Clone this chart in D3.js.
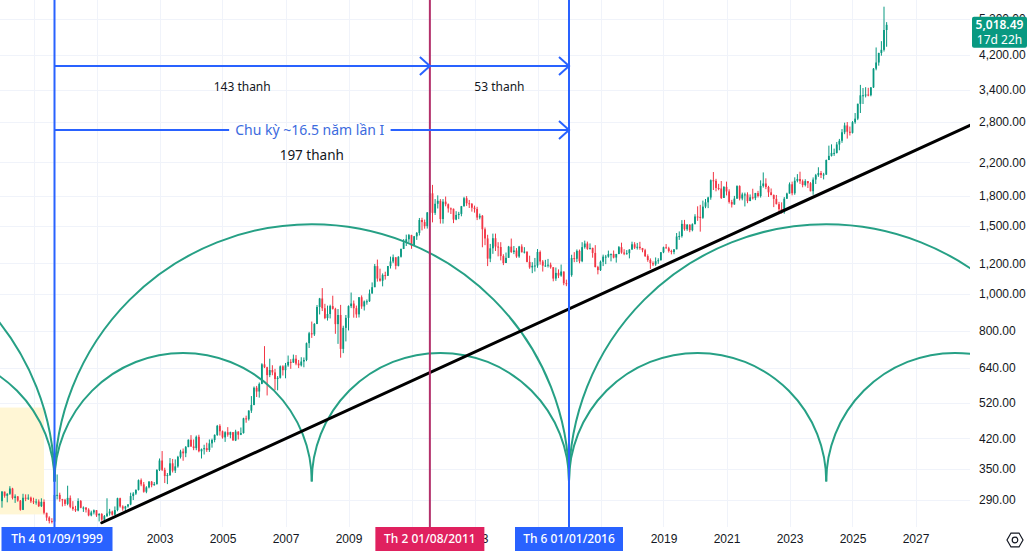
<!DOCTYPE html>
<html>
<head>
<meta charset="utf-8">
<style>
  body { margin: 0; background: #fff; }
  svg { display: block; font-family: "Noto Sans", "Open Sans", sans-serif; }
  .grid line { stroke: #f0f3fa; stroke-width: 1; }
  .axis text { fill: #131722; font-size: 12px; }
  .axis path, .axis line { display: none; }
</style>
</head>
<body>
<svg id="chart"></svg>
<script src="https://cdn.jsdelivr.net/npm/d3@7"></script>
<script>
// monthly XAUUSD bars, first bar = Jan 1998
var startYear = 1998;
var firstOpen = 288.0;
var closes = [
  304.9,297.4,301.0,310.7,293.6,296.3,288.9,273.4,293.9,292.3,294.1,287.8, // 1998
  287.1,287.3,279.5,286.6,268.6,261.0,255.6,254.8,299.0,299.1,291.4,290.3, // 1999
  283.3,293.7,278.4,274.8,272.3,288.2,276.8,277.0,273.7,264.5,269.1,272.7, // 2000
  264.5,266.7,257.7,263.2,267.5,270.6,265.5,273.0,293.1,279.0,275.5,279.0, // 2001
  282.3,296.9,301.4,308.2,326.6,318.5,304.7,312.8,323.7,316.9,319.1,347.2, // 2002
  367.5,347.5,334.9,336.8,361.4,346.0,354.8,375.6,388.0,383.8,398.4,416.3, // 2003
  399.8,396.0,423.7,388.5,393.3,395.8,391.4,407.3,415.7,428.5,452.5,438.0, // 2004
  422.2,435.5,428.9,435.7,414.5,437.1,429.0,433.3,473.3,470.8,495.7,513.0, // 2005
  568.8,556.0,582.0,654.5,643.0,613.5,632.5,623.5,599.3,603.8,646.7,632.0, // 2006
  650.5,664.2,661.8,677.0,657.5,650.5,665.5,672.0,743.0,788.5,783.5,834.0, // 2007
  923.3,971.5,916.2,864.0,885.0,928.3,913.0,833.0,880.0,718.0,814.5,865.0, // 2008
  928.0,942.5,916.5,883.3,978.8,926.4,954.5,955.5,1001,1039.7,1180,1095,   // 2009
  1081,1118,1113.3,1180.3,1213.4,1244,1181.7,1248,1307.8,1359.4,1386.1,1421, // 2010
  1333,1411,1439.5,1556,1536.5,1500,1628,1826,1624,1715,1746,1565,         // 2011
  1737,1710,1668,1664,1560,1604,1614,1690,1773,1720,1714,1675,             // 2012
  1663,1579,1596,1472,1393,1234,1313,1395,1327,1323,1253,1202,             // 2013
  1240,1326,1284,1296,1250,1327,1282,1287,1210,1171,1182,1184,             // 2014
  1284,1213,1183,1184,1190,1172,1095,1133,1115,1142,1065,1061,             // 2015
  1118,1238,1233,1293,1215,1322,1351,1309,1316,1277,1173,1152,             // 2016
  1211,1249,1249,1268,1268,1242,1269,1322,1280,1271,1275,1303,             // 2017
  1345,1318,1325,1315,1298,1253,1224,1201,1192,1215,1222,1282,             // 2018
  1321,1313,1292,1284,1305,1409,1413,1520,1472,1513,1464,1517,             // 2019
  1589,1585,1577,1686,1730,1781,1975,1968,1886,1879,1776,1898,             // 2020
  1847,1734,1708,1769,1907,1770,1814,1814,1743,1783,1774,1829,             // 2021
  1797,1909,1937,1897,1837,1807,1766,1711,1661,1634,1768,1824,             // 2022
  1928,1827,1969,1990,1963,1919,1965,1940,1849,1983,2036,2063,             // 2023
  2039,2044,2230,2286,2327,2327,2448,2503,2634,2744,2643,2625,             // 2024
  2798,2858,3124,3288,3289,3303,3290,3448,3858,4003,4239,4319,             // 2025
  4865,5018.49                                                             // 2026
];
var highs = [
  306,305,302,315,312,300,297,290,301,300,300,296,
  294,292,291,293,291,268,263,260,309,338,303,292,
  292,316,298,288,280,293,290,279,278,276,272,274,
  273,268,268,265,293,275,272,279,294,294,281,280,
  283,303,304,309,328,330,323,315,325,325,323,349,
  372,389,352,341,373,371,370,378,392,395,401,417,
  428,417,427,429,395,404,409,417,419,430,455,457,
  440,438,449,437,436,442,438,448,475,481,497,541,
  573,575,587,659,730,645,677,651,637,610,650,651,
  660,690,675,694,692,672,683,682,746,795,846,838,
  934,975,1034,941,931,936,988,919,912,935,825,880,
  932,1007,960,931,980,990,960,966,1025,1070,1195,1227,
  1162,1129,1141,1181,1249,1265,1245,1252,1311,1387,1425,1431,
  1424,1414,1448,1575,1577,1560,1632,1913,1921,1764,1804,1764,
  1764,1791,1718,1677,1667,1640,1634,1693,1788,1796,1755,1723,
  1696,1684,1617,1603,1488,1424,1348,1434,1434,1362,1362,1267,
  1280,1332,1392,1331,1315,1332,1345,1322,1288,1256,1208,1239,
  1307,1296,1224,1225,1232,1205,1172,1170,1157,1191,1143,1088,
  1127,1263,1283,1304,1303,1362,1375,1367,1352,1318,1338,1182,
  1220,1264,1262,1295,1273,1296,1270,1331,1358,1306,1299,1306,
  1366,1362,1356,1365,1316,1309,1266,1236,1214,1243,1237,1284,
  1326,1347,1325,1302,1306,1439,1453,1555,1557,1518,1516,1525,
  1611,1689,1704,1748,1765,1789,1984,2075,1992,1933,1966,1906,
  1959,1871,1756,1798,1916,1916,1834,1834,1837,1814,1877,1831,
  1853,1974,2070,1998,1910,1880,1814,1808,1735,1730,1786,1833,
  1949,1959,2010,2049,2079,1984,1987,1966,1953,2009,2052,2135,
  2088,2065,2236,2431,2450,2388,2484,2531,2685,2790,2801,2726,
  2817,2956,3128,3500,3435,3452,3439,3453,3872,4381,4245,4550,
  5595,5100
];
var lows = [
  277,294,286,299,291,285,287,272,273,288,290,285,
  283,282,278,278,266,256,252,252,253,291,287,279,
  280,281,276,272,270,271,276,270,269,263,263,266,
  262,255,256,254,262,264,264,265,271,277,272,270,
  277,281,290,299,307,315,303,302,311,313,316,318,
  345,345,321,319,335,342,341,352,372,367,375,398,
  399,391,391,386,372,381,387,387,397,410,426,427,
  419,411,424,420,414,413,417,428,432,461,467,489,
  512,538,536,581,640,543,606,613,561,560,601,612,
  602,645,637,660,651,640,646,643,667,722,767,776,
  833,883,901,858,851,862,909,786,740,681,700,751,
  802,917,866,865,867,913,904,936,952,1002,1041,1075,
  1075,1045,1088,1112,1163,1201,1157,1178,1242,1307,1331,1359,
  1309,1331,1381,1418,1462,1477,1478,1604,1534,1604,1667,1523,
  1523,1689,1627,1613,1527,1554,1564,1591,1686,1693,1672,1636,
  1626,1555,1562,1321,1338,1180,1208,1270,1292,1251,1221,1187,
  1202,1240,1277,1268,1240,1240,1281,1273,1207,1161,1131,1142,
  1168,1190,1142,1175,1170,1162,1077,1080,1098,1107,1052,1046,
  1061,1107,1208,1209,1200,1208,1310,1301,1303,1241,1171,1123,
  1146,1180,1194,1241,1214,1236,1205,1267,1271,1260,1264,1236,
  1302,1307,1303,1302,1282,1246,1211,1160,1180,1182,1196,1221,
  1275,1310,1280,1266,1267,1305,1381,1400,1459,1458,1446,1454,
  1517,1548,1451,1567,1670,1671,1757,1863,1848,1860,1765,1776,
  1803,1717,1677,1705,1766,1750,1751,1688,1721,1746,1759,1753,
  1781,1780,1890,1872,1787,1805,1681,1709,1615,1617,1616,1765,
  1823,1804,1810,1950,1932,1893,1903,1885,1848,1810,1931,2016,
  2002,1985,2039,2229,2277,2286,2319,2364,2472,2604,2536,2583,
  2614,2772,2833,2957,3121,3247,3268,3268,3436,3820,3928,4170,
  4275,4400
];

var priceTicks = [290, 350, 420, 520, 640, 800, 1000, 1200, 1500, 1800, 2200, 2800, 3400, 4200, 5200];
var yearTicks = [1999, 2001, 2003, 2005, 2007, 2009, 2011, 2013, 2015, 2017, 2019, 2021, 2023, 2025, 2027];

// drawings
var cycleStart = "1999-09", cycleMid = "2011-08", cycleEnd = "2016-01";
var markerLabels = ["Th 4 01/09/1999", "Th 2 01/08/2011", "Th 6 01/01/2016"];
var barCounts = ["143 thanh", "53 thanh", "197 thanh"];
var cycleTitle = "Chu kỳ ~16.5 năm lần I";
var trendA = ["2001-03", 253], trendB = ["2022-10", 1637];
var arcBasePrice = 324;
var zoneBox = [["1997-06", 505], ["1999-05", 266]];
var lastPrice = 5018.49, countdown = "17d 22h";

var W = 1034, H = 552, plotW = 970, plotH = 527;
var svg = d3.select("#chart").attr("width", W).attr("height", H);

function idx(s) { var p = s.split("-"); return (+p[0] - startYear) * 12 + (+p[1] - 1); }

var x = d3.scaleLinear().domain([60, 348]).range([159.5, 915.5]);
var y = d3.scaleLog().domain([290, 4200]).range([500, 54.5]);

var bars = closes.map(function(c, i) {
  return { i: i, o: i === 0 ? firstOpen : closes[i - 1], h: highs[i], l: lows[i], c: c };
});

svg.append("defs").append("clipPath").attr("id", "plot")
  .append("rect").attr("width", plotW).attr("height", plotH);

// grid
var grid = svg.append("g").attr("class", "grid");
grid.selectAll(".gy").data(priceTicks).enter().append("line")
  .attr("x1", 0).attr("x2", plotW)
  .attr("y1", function(d) { return Math.round(y(d)) + 0.5; })
  .attr("y2", function(d) { return Math.round(y(d)) + 0.5; });
grid.selectAll(".gx").data(yearTicks).enter().append("line")
  .attr("y1", 0).attr("y2", plotH)
  .attr("x1", function(d) { return Math.round(x((d - startYear) * 12)) + 0.5; })
  .attr("x2", function(d) { return Math.round(x((d - startYear) * 12)) + 0.5; });

var plot = svg.append("g").attr("clip-path", "url(#plot)");

// yellow zone
plot.append("rect")
  .attr("x", x(idx(zoneBox[0][0]))).attr("y", y(zoneBox[0][1]))
  .attr("width", x(idx(zoneBox[1][0])) - x(idx(zoneBox[0][0])))
  .attr("height", y(zoneBox[1][1]) - y(zoneBox[0][1]))
  .attr("fill", "#fff6d5");

// candles
var up = "#089981", down = "#f23645";
var candles = plot.append("g").selectAll("g").data(bars).enter().append("g");
candles.append("line")
  .attr("x1", function(d) { return x(d.i); }).attr("x2", function(d) { return x(d.i); })
  .attr("y1", function(d) { return y(Math.max(d.h, d.o, d.c)); })
  .attr("y2", function(d) { return y(Math.min(d.l, d.o, d.c)); })
  .attr("stroke", function(d) { return d.c >= d.o ? up : down; })
  .attr("stroke-width", 1);
candles.append("rect")
  .attr("x", function(d) { return x(d.i) - 0.9; }).attr("width", 1.8)
  .attr("y", function(d) { return y(Math.max(d.o, d.c)); })
  .attr("height", function(d) { return Math.max(1, Math.abs(y(d.o) - y(d.c))); })
  .attr("fill", function(d) { return d.c >= d.o ? up : down; });

// cycle arcs
var c0 = x(idx(cycleStart)), c1 = x(idx(cycleEnd)), period = c1 - c0;
var base = y(arcBasePrice);
var arcs = [];
[-1, 0, 1].forEach(function(k) { arcs.push([c0 + k * period, c0 + (k + 1) * period]); });
[-1, 0, 1, 2, 3].forEach(function(k) { arcs.push([c0 + k * period / 2, c0 + (k + 1) * period / 2]); });
plot.append("g").selectAll("path").data(arcs).enter().append("path")
  .attr("d", function(d) {
    var r = (d[1] - d[0]) / 2;
    return "M" + d[0] + "," + base + " A" + r + "," + r + " 0 0 1 " + d[1] + "," + base;
  })
  .attr("fill", "none").attr("stroke", "#26a085").attr("stroke-width", 2);

// trend line, extended right
var ax = x(idx(trendA[0])), ay = y(trendA[1]), bx = x(idx(trendB[0])), by = y(trendB[1]);
var slope = (by - ay) / (bx - ax);
plot.append("line")
  .attr("x1", ax).attr("y1", ay)
  .attr("x2", plotW).attr("y2", ay + slope * (plotW - ax))
  .attr("stroke", "#000").attr("stroke-width", 3).attr("stroke-linecap", "round");

// vertical markers
var cm = x(idx(cycleMid));
var blue = "#2962ff";
[[c0, blue], [cm, "#b3306b"], [c1, blue]].forEach(function(v) {
  plot.append("line").attr("x1", v[0]).attr("x2", v[0]).attr("y1", 0).attr("y2", plotH)
    .attr("stroke", v[1]).attr("stroke-width", 2);
});

// date range arrows
var yA1 = 66, yA2 = 130;
function arrow(x1, x2, yy) {
  plot.append("line").attr("x1", x1).attr("x2", x2).attr("y1", yy).attr("y2", yy)
    .attr("stroke", blue).attr("stroke-width", 2);
  plot.append("path")
    .attr("d", "M" + (x2 - 10) + "," + (yy - 9) + "L" + x2 + "," + yy + "L" + (x2 - 10) + "," + (yy + 9))
    .attr("fill", "none").attr("stroke", blue).attr("stroke-width", 2);
}
arrow(c0, cm, yA1);
arrow(cm, c1, yA1);
arrow(c0, c1, yA2);

var title = plot.append("text").attr("x", (c0 + c1) / 2 - 2).attr("y", yA2).attr("dy", "0.35em")
  .attr("text-anchor", "middle").attr("fill", "#3c6bde").style("font-size", "14px")
  .text(cycleTitle);
var tb = title.node().getBBox();
plot.insert("rect", "text").attr("x", tb.x - 6).attr("y", yA2 - 3).attr("width", tb.width + 12)
  .attr("height", 6).attr("fill", "#fff");

plot.append("text").attr("x", (c0 + cm) / 2).attr("y", yA1 + 21).attr("dy", "0.35em")
  .attr("text-anchor", "middle").attr("fill", "#131722").style("font-size", "12px").text(barCounts[0]);
plot.append("text").attr("x", (cm + c1) / 2).attr("y", yA1 + 21).attr("dy", "0.35em")
  .attr("text-anchor", "middle").attr("fill", "#131722").style("font-size", "12px").text(barCounts[1]);
plot.append("text").attr("x", (c0 + c1) / 2).attr("y", yA2 + 25).attr("dy", "0.35em")
  .attr("text-anchor", "middle").attr("fill", "#131722").style("font-size", "13.5px").text(barCounts[2]);

// price axis
svg.append("g").attr("class", "axis").attr("transform", "translate(979,0)")
  .call(d3.axisRight(y).tickValues(priceTicks).tickSize(0).tickPadding(0).tickFormat(d3.format(",.2f")));

// marker label boxes on the time axis; year labels fully under a box are hidden
var markers = [[c0, blue, -53, 111], [cm, "#e0215f", -54.5, 109], [c1, blue, -54, 108]];
var yearLabelHalf = 14;
var visibleYears = yearTicks.filter(function(yr) {
  var cx = x((yr - startYear) * 12);
  return !markers.some(function(m) {
    return cx - yearLabelHalf >= m[0] + m[2] && cx + yearLabelHalf <= m[0] + m[2] + m[3];
  });
});

svg.append("g").attr("class", "axis").attr("transform", "translate(0," + plotH + ")")
  .call(d3.axisBottom(x).tickValues(visibleYears.map(function(d) { return (d - startYear) * 12; }))
    .tickSize(0).tickPadding(7).tickFormat(function(d) { return startYear + Math.round(d / 12); }))
  .selectAll("text").style("font-weight", "500");

markers.forEach(function(m, k) {
  svg.append("rect").attr("x", m[0] + m[2]).attr("y", plotH).attr("width", m[3]).attr("height", 24)
    .attr("fill", m[1]);
  svg.append("text").attr("x", m[0] + m[2] + m[3] / 2).attr("y", plotH + 12).attr("dy", "0.35em")
    .attr("text-anchor", "middle").attr("fill", "#fff").style("font-size", "12px")
    .style("font-weight", "500").text(markerLabels[k]);
});

// last price label
var py = y(lastPrice);
svg.append("rect").attr("x", 972).attr("y", py - 8).attr("width", 55).attr("height", 31)
  .attr("rx", 2).attr("fill", "#089981");
svg.append("text").attr("x", 999.5).attr("y", py).attr("dy", "0.35em").attr("text-anchor", "middle")
  .attr("fill", "#fff").style("font-size", "12px").style("font-weight", "600").text(d3.format(",.2f")(lastPrice));
svg.append("text").attr("x", 999.5).attr("y", py + 15).attr("dy", "0.35em").attr("text-anchor", "middle")
  .attr("fill", "#fff").style("font-size", "12px").text(countdown);

// settings icon
var hex = d3.range(6).map(function(k) {
  var a = Math.PI / 3 * k;
  return [1015 + 8 * Math.cos(a), 540 + 8 * Math.sin(a)];
});
svg.append("path").attr("d", "M" + hex.join("L") + "Z").attr("fill", "none")
  .attr("stroke", "#131722").attr("stroke-width", 1.2);
svg.append("circle").attr("cx", 1015).attr("cy", 540).attr("r", 2.8).attr("fill", "none")
  .attr("stroke", "#131722").attr("stroke-width", 1.2);
</script>
</body>
</html>
